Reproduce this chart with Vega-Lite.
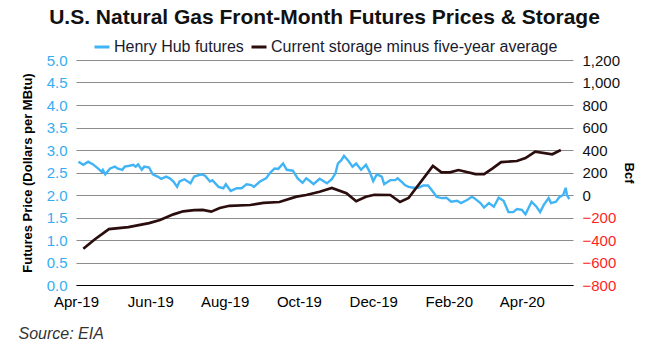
{
  "$schema": "https://vega.github.io/schema/vega-lite/v6.json",
  "width": 497,
  "height": 225,
  "autosize": {"type": "none"},
  "padding": {"left": 76, "top": 60, "right": 75, "bottom": 67},
  "background": "white",
  "config": {"font": "Liberation Sans", "view": {"stroke": null}},
  "title": {"text": "U.S. Natural Gas Front-Month Futures Prices & Storage", "fontSize": 21, "fontWeight": "bold", "color": "#111111", "anchor": "middle", "frame": "group", "baseline": "alphabetic", "offset": -7, "font": "Liberation Sans"},
  "datasets": {
    "hh": [
      {"date": "2019-04-03", "price": 2.74}, {"date": "2019-04-07", "price": 2.67}, {"date": "2019-04-11", "price": 2.74}, {"date": "2019-04-15", "price": 2.68},
      {"date": "2019-04-19", "price": 2.59}, {"date": "2019-04-22", "price": 2.52}, {"date": "2019-04-23", "price": 2.56}, {"date": "2019-04-25", "price": 2.46},
      {"date": "2019-04-29", "price": 2.59}, {"date": "2019-05-03", "price": 2.63}, {"date": "2019-05-05", "price": 2.59}, {"date": "2019-05-09", "price": 2.56},
      {"date": "2019-05-11", "price": 2.63}, {"date": "2019-05-15", "price": 2.65}, {"date": "2019-05-18", "price": 2.67}, {"date": "2019-05-20", "price": 2.63},
      {"date": "2019-05-22", "price": 2.68}, {"date": "2019-05-25", "price": 2.56}, {"date": "2019-05-27", "price": 2.63}, {"date": "2019-05-31", "price": 2.61},
      {"date": "2019-06-03", "price": 2.46}, {"date": "2019-06-07", "price": 2.41}, {"date": "2019-06-10", "price": 2.36}, {"date": "2019-06-14", "price": 2.41},
      {"date": "2019-06-17", "price": 2.37}, {"date": "2019-06-20", "price": 2.30}, {"date": "2019-06-23", "price": 2.18}, {"date": "2019-06-25", "price": 2.30},
      {"date": "2019-06-29", "price": 2.35}, {"date": "2019-07-04", "price": 2.26}, {"date": "2019-07-07", "price": 2.41}, {"date": "2019-07-13", "price": 2.46},
      {"date": "2019-07-16", "price": 2.43}, {"date": "2019-07-20", "price": 2.30}, {"date": "2019-07-22", "price": 2.33}, {"date": "2019-07-27", "price": 2.18},
      {"date": "2019-07-31", "price": 2.15}, {"date": "2019-08-02", "price": 2.24}, {"date": "2019-08-06", "price": 2.09}, {"date": "2019-08-11", "price": 2.15},
      {"date": "2019-08-15", "price": 2.15}, {"date": "2019-08-19", "price": 2.24}, {"date": "2019-08-23", "price": 2.22}, {"date": "2019-08-25", "price": 2.18},
      {"date": "2019-08-30", "price": 2.30}, {"date": "2019-09-04", "price": 2.37}, {"date": "2019-09-07", "price": 2.48}, {"date": "2019-09-11", "price": 2.59},
      {"date": "2019-09-14", "price": 2.58}, {"date": "2019-09-18", "price": 2.70}, {"date": "2019-09-21", "price": 2.56}, {"date": "2019-09-26", "price": 2.54},
      {"date": "2019-09-30", "price": 2.37}, {"date": "2019-10-04", "price": 2.27}, {"date": "2019-10-07", "price": 2.37}, {"date": "2019-10-10", "price": 2.31},
      {"date": "2019-10-13", "price": 2.24}, {"date": "2019-10-18", "price": 2.36}, {"date": "2019-10-24", "price": 2.26}, {"date": "2019-10-28", "price": 2.35},
      {"date": "2019-10-31", "price": 2.48}, {"date": "2019-11-02", "price": 2.70}, {"date": "2019-11-05", "price": 2.78}, {"date": "2019-11-07", "price": 2.87},
      {"date": "2019-11-10", "price": 2.78}, {"date": "2019-11-14", "price": 2.63}, {"date": "2019-11-17", "price": 2.70}, {"date": "2019-11-21", "price": 2.56},
      {"date": "2019-11-25", "price": 2.67}, {"date": "2019-11-28", "price": 2.52}, {"date": "2019-12-01", "price": 2.31}, {"date": "2019-12-04", "price": 2.46},
      {"date": "2019-12-08", "price": 2.41}, {"date": "2019-12-10", "price": 2.24}, {"date": "2019-12-15", "price": 2.33}, {"date": "2019-12-19", "price": 2.33},
      {"date": "2019-12-21", "price": 2.37}, {"date": "2019-12-24", "price": 2.30}, {"date": "2019-12-27", "price": 2.22}, {"date": "2019-12-30", "price": 2.18},
      {"date": "2020-01-03", "price": 2.16}, {"date": "2020-01-07", "price": 2.16}, {"date": "2020-01-11", "price": 2.21}, {"date": "2020-01-15", "price": 2.21},
      {"date": "2020-01-18", "price": 2.11}, {"date": "2020-01-22", "price": 1.96}, {"date": "2020-01-26", "price": 1.93}, {"date": "2020-01-30", "price": 1.94},
      {"date": "2020-02-03", "price": 1.85}, {"date": "2020-02-08", "price": 1.87}, {"date": "2020-02-11", "price": 1.82}, {"date": "2020-02-16", "price": 1.89},
      {"date": "2020-02-20", "price": 1.96}, {"date": "2020-02-22", "price": 1.93}, {"date": "2020-02-27", "price": 1.82}, {"date": "2020-03-01", "price": 1.72},
      {"date": "2020-03-05", "price": 1.82}, {"date": "2020-03-09", "price": 1.74}, {"date": "2020-03-13", "price": 1.94}, {"date": "2020-03-17", "price": 1.87},
      {"date": "2020-03-21", "price": 1.62}, {"date": "2020-03-25", "price": 1.62}, {"date": "2020-03-28", "price": 1.69}, {"date": "2020-04-01", "price": 1.67},
      {"date": "2020-04-04", "price": 1.57}, {"date": "2020-04-09", "price": 1.85}, {"date": "2020-04-13", "price": 1.74}, {"date": "2020-04-16", "price": 1.62},
      {"date": "2020-04-19", "price": 1.78}, {"date": "2020-04-23", "price": 1.93}, {"date": "2020-04-25", "price": 1.82}, {"date": "2020-04-29", "price": 1.85},
      {"date": "2020-05-02", "price": 1.96}, {"date": "2020-05-05", "price": 2.00}, {"date": "2020-05-07", "price": 2.16}, {"date": "2020-05-08", "price": 2.00},
      {"date": "2020-05-10", "price": 1.91}
    ],
    "st": [
      {"date": "2019-04-07", "bcf": -478}, {"date": "2019-04-16", "bcf": -398}, {"date": "2019-04-28", "bcf": -303}, {"date": "2019-05-14", "bcf": -285},
      {"date": "2019-05-31", "bcf": -250}, {"date": "2019-06-09", "bcf": -222}, {"date": "2019-06-20", "bcf": -172}, {"date": "2019-06-28", "bcf": -145},
      {"date": "2019-07-07", "bcf": -135}, {"date": "2019-07-14", "bcf": -133}, {"date": "2019-07-21", "bcf": -148}, {"date": "2019-07-28", "bcf": -115},
      {"date": "2019-08-05", "bcf": -96}, {"date": "2019-08-22", "bcf": -89}, {"date": "2019-09-02", "bcf": -70}, {"date": "2019-09-15", "bcf": -62},
      {"date": "2019-09-29", "bcf": -15}, {"date": "2019-10-07", "bcf": 0}, {"date": "2019-10-18", "bcf": 29}, {"date": "2019-10-28", "bcf": 62},
      {"date": "2019-11-09", "bcf": 15}, {"date": "2019-11-17", "bcf": -55}, {"date": "2019-11-25", "bcf": -15}, {"date": "2019-12-02", "bcf": 2},
      {"date": "2019-12-15", "bcf": 0}, {"date": "2019-12-23", "bcf": -62}, {"date": "2019-12-30", "bcf": -27}, {"date": "2020-01-19", "bcf": 258},
      {"date": "2020-01-26", "bcf": 202}, {"date": "2020-02-02", "bcf": 202}, {"date": "2020-02-09", "bcf": 222}, {"date": "2020-02-23", "bcf": 186},
      {"date": "2020-03-01", "bcf": 186}, {"date": "2020-03-08", "bcf": 236}, {"date": "2020-03-15", "bcf": 292}, {"date": "2020-03-28", "bcf": 302},
      {"date": "2020-04-04", "bcf": 328}, {"date": "2020-04-12", "bcf": 385}, {"date": "2020-04-26", "bcf": 362}, {"date": "2020-05-03", "bcf": 400}
    ]
  },
  "encoding": {
    "x": {
      "field": "date", "type": "temporal",
      "scale": {"type": "utc", "domain": [{"year": 2019, "month": 4, "date": 1, "utc": true}, {"year": 2020, "month": 5, "date": 13, "utc": true}]},
      "axis": {
        "title": "Source: EIA",
        "values": [
          {"year": 2019, "month": 4, "date": 1, "utc": true}, {"year": 2019, "month": 6, "date": 1, "utc": true},
          {"year": 2019, "month": 8, "date": 1, "utc": true}, {"year": 2019, "month": 10, "date": 1, "utc": true},
          {"year": 2019, "month": 12, "date": 1, "utc": true}, {"year": 2020, "month": 2, "date": 1, "utc": true},
          {"year": 2020, "month": 4, "date": 1, "utc": true}
        ],
        "labelExpr": "utcFormat(datum.value, '%b-%y')",
        "labelAlign": "center",
        "labelFontSize": 15, "labelColor": "#000000", "labelPadding": 9, "labelFlush": false, "labelOverlap": false,
        "ticks": false, "grid": false, "domain": true, "domainColor": "#000000", "domainWidth": 1.2,
        "titleFontSize": 16, "titleFontStyle": "italic", "titleFontWeight": "normal", "titleColor": "#333333",
        "titleAnchor": "start", "titleAlign": "left", "titleX": -58, "titleY": 48, "titleBaseline": "middle"
      }
    }
  },
  "layer": [
    {
      "data": {"name": "hh"},
      "mark": {"type": "line", "strokeWidth": 2.4},
      "encoding": {
        "y": {
          "field": "price", "type": "quantitative",
          "scale": {"domain": [0, 5], "nice": false, "zero": false},
          "axis": {
            "title": "Futures Price (Dollars per MBtu)", "values": [0, 0.5, 1, 1.5, 2, 2.5, 3, 3.5, 4, 4.5, 5], "format": ".1f",
            "labelColor": "#36ADF2", "labelFontSize": 15, "labelPadding": 9,
            "grid": true, "gridColor": "#8c8c8c", "gridWidth": 1, "domain": false, "ticks": false,
            "titleFontSize": 13, "titleFontWeight": "bold", "titleColor": "#000000", "titlePadding": 12
          }
        },
        "color": {
          "datum": "Henry Hub futures", "type": "nominal",
          "scale": {"domain": ["Henry Hub futures", "Current storage minus five-year average"], "range": ["#40B4F5", "#2B0D0D"]},
          "legend": {
            "orient": "none", "legendX": 17, "legendY": -22, "direction": "horizontal", "title": null,
            "symbolType": "stroke", "symbolStrokeWidth": 3, "symbolSize": 225, "labelLimit": 400,
            "labelFontSize": 16, "labelColor": "#1a1a2e", "columnPadding": 1, "labelOffset": 3
          }
        }
      }
    },
    {
      "data": {"name": "st"},
      "mark": {"type": "line", "strokeWidth": 2.7},
      "encoding": {
        "y": {
          "field": "bcf", "type": "quantitative",
          "scale": {"domain": [-800, 1200], "nice": false, "zero": false},
          "axis": {
            "orient": "right", "title": "Bcf", "values": [-800, -600, -400, -200, 0, 200, 400, 600, 800, 1000, 1200], "format": ",.0f",
            "labelColor": {"condition": {"test": "datum.value < 0", "value": "#FF1F1F"}, "value": "#111111"},
            "labelFontSize": 15, "labelPadding": 9, "grid": false, "domain": false, "ticks": false,
            "titleFontSize": 13, "titleFontWeight": "bold", "titleColor": "#000000", "titlePadding": 2
          }
        },
        "color": {"datum": "Current storage minus five-year average", "type": "nominal"}
      }
    }
  ],
  "resolve": {"scale": {"y": "independent"}}
}
